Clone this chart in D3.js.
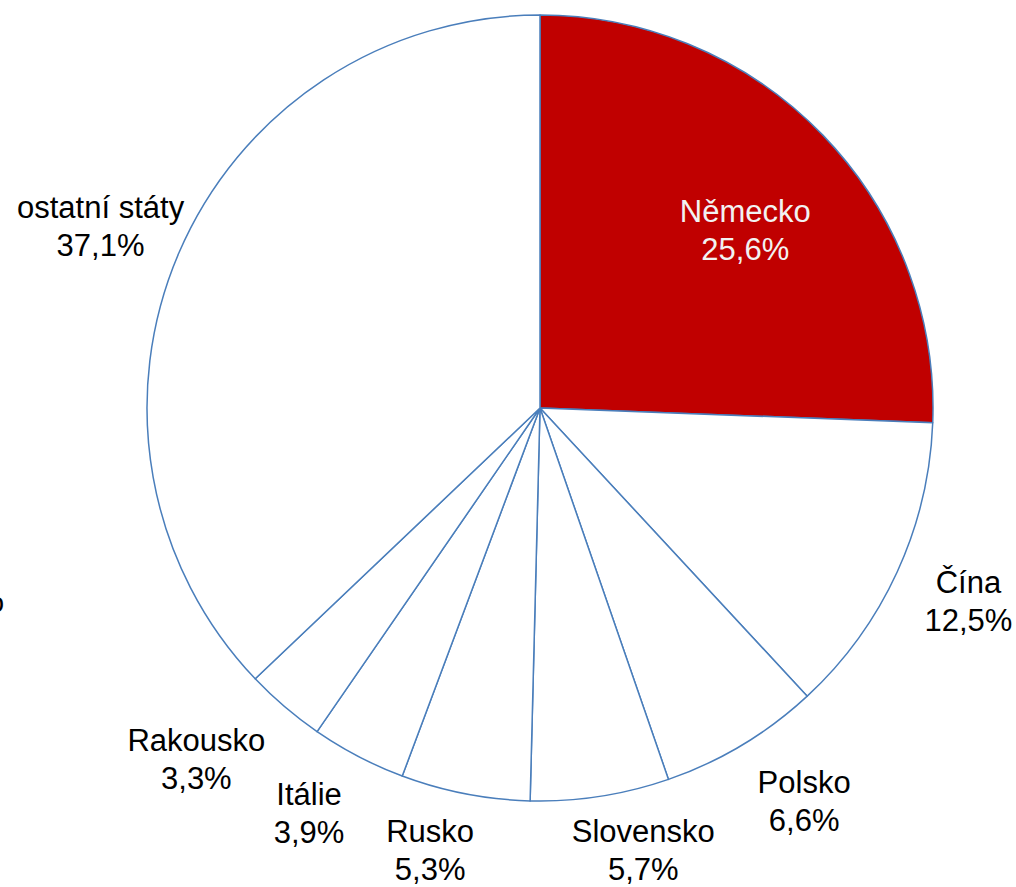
<!DOCTYPE html>
<html>
<head>
<meta charset="utf-8">
<script src="https://cdn.jsdelivr.net/npm/d3@7"></script>
<style>
  html, body { margin: 0; padding: 0; background: #ffffff; }
  svg { display: block; }
  text { font-family: "Liberation Sans", Arial, sans-serif; }
</style>
</head>
<body>
<svg id="chart" width="1016" height="887"></svg>
<script>
// Data
const categories = ["Německo", "Čína", "Polsko", "Slovensko", "Rusko", "Itálie", "Rakousko", "ostatní státy"];
const shares = [25.6, 12.5, 6.6, 5.7, 5.3, 3.9, 3.3, 37.1];
const labelTexts = ["25,6%", "12,5%", "6,6%", "5,7%", "5,3%", "3,9%", "3,3%", "37,1%"];
const highlighted = ["Německo"];

const W = 1016, H = 887;
const cx = 540, cy = 408, R = 393;
const insideLabelR = 285;
const labelGap = 30;
const fontSize = 31, lineGap = 38, capH = 22;
const kx = 3.5, ky = 1.3;          // how fast the anchor slides along the label box
const padLeft = 17, padRight = 3, padTop = 3, maxBaseline = 880;

const svg = d3.select("#chart");

// clipped fragment of text at the left edge
svg.append("text")
  .attr("x", 4).attr("y", 612)
  .attr("text-anchor", "end")
  .attr("font-size", 28)
  .attr("fill", "#000")
  .text("o");

const data = categories.map((c, i) => ({ name: c, value: shares[i], label: labelTexts[i] }));

const pie = d3.pie().value(d => d.value).sort(null);
const arcs = pie(data);

const arc = d3.arc().innerRadius(0).outerRadius(R);
const inArc = d3.arc().innerRadius(insideLabelR).outerRadius(insideLabelR);
const anchorArc = d3.arc().innerRadius(R + labelGap).outerRadius(R + labelGap);

const g = svg.append("g").attr("transform", `translate(${cx},${cy})`);

g.selectAll("path.slice")
  .data(arcs)
  .join("path")
  .attr("class", "slice")
  .attr("d", arc)
  .attr("fill", d => highlighted.includes(d.data.name) ? "#c00000" : "#ffffff")
  .attr("stroke", "#4a7ebb")
  .attr("stroke-width", 1.5)
  .attr("stroke-linejoin", "round");

const labels = g.selectAll("g.lbl")
  .data(arcs)
  .join("g")
  .attr("class", "lbl");

const texts = labels.append("text")
  .attr("text-anchor", "middle")
  .attr("font-size", fontSize)
  .attr("fill", d => highlighted.includes(d.data.name) ? "#f2f2f2" : "#000000");

texts.selectAll("tspan")
  .data(d => [d.data.name, d.data.label])
  .join("tspan")
  .attr("x", 0)
  .attr("y", (t, i) => (i === 0 ? -lineGap / 2 : lineGap / 2) + capH / 2)
  .text(t => t);

const clamp = v => Math.max(-1, Math.min(1, v));

labels.each(function(d) {
  const node = d3.select(this);
  if (highlighted.includes(d.data.name)) {
    const [x, y] = inArc.centroid(d);
    node.attr("transform", `translate(${x},${y + 20})`);
    return;
  }
  let w = 0;
  node.selectAll("tspan").each(function() { w = Math.max(w, this.getComputedTextLength()); });
  const h = lineGap + capH;
  const a = (d.startAngle + d.endAngle) / 2;
  const sx = Math.sin(a), sy = -Math.cos(a);
  const [px, py] = anchorArc.centroid(d);
  let x = px + clamp(kx * sx) * w / 2;
  let y = py + clamp(ky * sy) * h / 2;
  // keep the label inside the chart area
  x = Math.max(x, padLeft + w / 2 - cx);
  x = Math.min(x, W - padRight - w / 2 - cx);
  y = Math.max(y, padTop + h / 2 - cy);
  y = Math.min(y, maxBaseline - cy - lineGap / 2 - capH / 2);
  node.attr("transform", `translate(${x},${y})`);
});
</script>
</body>
</html>
